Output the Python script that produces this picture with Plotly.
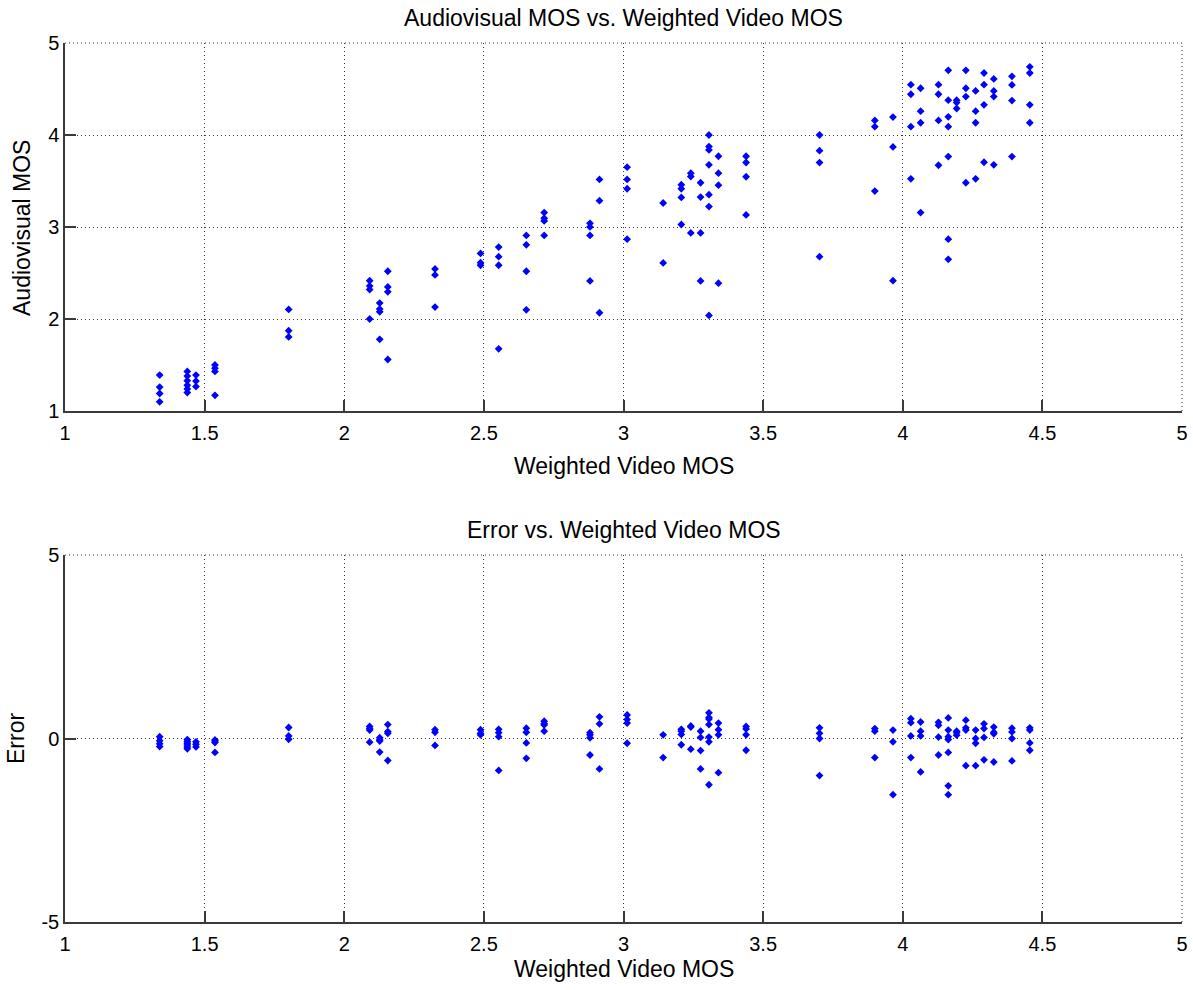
import plotly.graph_objects as go

# ---- data ----
# weighted video MOS (x) for each stimulus
video_mos = (
    [1.339] * 4 + [1.438] * 6 + [1.469] * 3 + [1.537] * 4 + [1.801] * 3 +
    [2.091] * 4 + [2.127] * 4 + [2.156] * 4 + [2.325] * 3 + [2.488] * 3 +
    [2.553] * 4 + [2.652] * 4 + [2.716] * 4 + [2.880] * 4 + [2.914] * 3 +
    [3.013] * 4 + [3.142] * 2 + [3.207] * 4 + [3.241] * 3 + [3.276] * 4 +
    [3.306] * 7 + [3.340] * 4 + [3.439] * 4 + [3.702] * 4 + [3.900] * 3 +
    [3.965] * 3 + [4.029] * 4 + [4.064] * 4 + [4.128] * 4 + [4.163] * 7 +
    [4.193] * 3 + [4.226] * 4 + [4.261] * 4 + [4.291] * 4 + [4.326] * 4 +
    [4.391] * 4 + [4.455] * 4
)

# audiovisual MOS (top panel)
av_mos = [
    1.39, 1.26, 1.19, 1.10,
    1.43, 1.38, 1.33, 1.28, 1.24, 1.20,
    1.39, 1.325, 1.265,
    1.50, 1.466, 1.43, 1.17,
    2.104, 1.873, 1.805,
    2.417, 2.36, 2.32, 2.00,
    2.173, 2.108, 2.079, 1.779,
    2.519, 2.349, 2.295, 1.56,
    2.544, 2.479, 2.130,
    2.713, 2.612, 2.584,
    2.782, 2.677, 2.584, 1.676,
    2.908, 2.806, 2.519, 2.100,
    3.157, 3.095, 3.066, 2.908,
    3.04, 3.001, 2.908, 2.414,
    3.517, 3.286, 2.068,
    3.650, 3.517, 3.416, 2.868,
    3.261, 2.609,
    3.459, 3.416, 3.322, 3.027,
    3.585, 3.549, 2.936,
    3.481, 3.325, 2.936, 2.414,
    4.000, 3.874, 3.838, 3.676, 3.351, 3.222, 2.039,
    3.769, 3.585, 3.455, 2.389,
    3.769, 3.701, 3.546, 3.131,
    4.000, 3.830, 3.700, 2.677,
    4.158, 4.090, 3.390,
    4.195, 3.870, 2.417,
    4.547, 4.443, 4.090, 3.524,
    4.508, 4.259, 4.133, 3.157,
    4.547, 4.443, 4.158, 3.671,
    4.703, 4.378, 4.198, 4.090, 3.765, 2.868, 2.649,
    4.378, 4.352, 4.288,
    4.703, 4.508, 4.418, 3.481,
    4.479, 4.259, 4.133, 3.524,
    4.674, 4.547, 4.328, 3.704,
    4.609, 4.479, 4.418, 3.676,
    4.638, 4.544, 4.374, 3.765,
    4.741, 4.674, 4.328, 4.133,
]

# prediction error (bottom panel)
error = [
    0.05, -0.06, -0.14, -0.22,
    -0.03, -0.08, -0.13, -0.18, -0.23, -0.28,
    -0.09, -0.16, -0.23,
    -0.04, -0.07, -0.11, -0.38,
    0.30, 0.07, -0.02,
    0.33, 0.27, 0.23, -0.10,
    0.02, -0.04, -0.07, -0.37,
    0.38, 0.19, 0.14, -0.60,
    0.24, 0.17, -0.19,
    0.24, 0.14, 0.10,
    0.25, 0.16, 0.05, -0.87,
    0.28, 0.17, -0.12, -0.54,
    0.47, 0.40, 0.37, 0.20,
    0.16, 0.10, 0.02, -0.45,
    0.59, 0.40, -0.83,
    0.64, 0.52, 0.42, -0.13,
    0.10, -0.52,
    0.25, 0.20, 0.11, -0.17,
    0.34, 0.31, -0.29,
    0.20, 0.03, -0.33, -0.83,
    0.70, 0.57, 0.53, 0.38, 0.04, -0.09, -1.26,
    0.42, 0.24, 0.10, -0.93,
    0.33, 0.26, 0.10, -0.32,
    0.29, 0.14, 0.00, -1.01,
    0.27, 0.20, -0.52,
    0.23, -0.09, -1.53,
    0.54, 0.43, 0.07, -0.52,
    0.45, 0.20, 0.07, -0.91,
    0.44, 0.36, 0.04, -0.45,
    0.56, 0.23, 0.05, -0.03, -0.38, -1.29, -1.53,
    0.20, 0.16, 0.09,
    0.50, 0.29, 0.23, -0.74,
    0.23, 0.00, -0.13, -0.74,
    0.40, 0.27, 0.03, -0.58,
    0.31, 0.17, 0.13, -0.64,
    0.28, 0.18, 0.00, -0.61,
    0.29, 0.23, -0.12, -0.32,
]

x_ticks = [1, 1.5, 2, 2.5, 3, 3.5, 4, 4.5, 5]
x_tick_labels = ["1", "1.5", "2", "2.5", "3", "3.5", "4", "4.5", "5"]
top_y_ticks = [1, 2, 3, 4, 5]
top_y_labels = ["1", "2", "3", "4", "5"]
bottom_y_ticks = [-5, 0, 5]
bottom_y_labels = ["-5", "0", "5"]

title_top = "Audiovisual MOS vs. Weighted Video MOS"
title_bottom = "Error vs. Weighted Video MOS"
x_label = "Weighted Video MOS"
y_label_top = "Audiovisual MOS"
y_label_bottom = "Error"

# ---- figure ----
FONT = "Liberation Sans, Arial, Helvetica, sans-serif"
BLUE = "rgb(0,0,255)"
GRID = "#333333"
DOT = "1px,3px"
marker = dict(symbol="diamond", size=6, color=BLUE, line=dict(width=0))

W, H = 1193, 990
ML, MR, MT, MB = 65, 11, 43, 68
PW, PH = W - ML - MR, H - MT - MB


def py(pix):  # pixel row -> paper y
    return (H - MB - pix) / PH


def px(pix):  # pixel column -> paper x
    return (pix - ML) / PW


fig = go.Figure()
fig.add_trace(go.Scatter(x=video_mos, y=av_mos, mode="markers", marker=marker,
                         xaxis="x", yaxis="y", showlegend=False))
fig.add_trace(go.Scatter(x=video_mos, y=error, mode="markers", marker=marker,
                         xaxis="x2", yaxis="y2", showlegend=False))

axis_common = dict(
    showline=True, linecolor="#3a3a3a", linewidth=1.5,
    ticks="inside", ticklen=11, tickwidth=1.5, tickcolor="#3a3a3a",
    showgrid=True, gridcolor=GRID, gridwidth=1, griddash=DOT,
    zeroline=False, mirror=False, automargin=False,
    ticklabeloverflow="allow",
    tickfont=dict(family=FONT, size=20, color="black"),
)

# dotted frame lines on the top and right edges (grid lines at the range ends)
edge_shapes = []
for xr, yr in (("x domain", "y domain"), ("x2 domain", "y2 domain")):
    edge_shapes.append(dict(type="line", xref=xr, yref=yr, x0=0, x1=1, y0=1, y1=1,
                            line=dict(color=GRID, width=1, dash=DOT)))
    edge_shapes.append(dict(type="line", xref=xr, yref=yr, x0=1, x1=1, y0=0, y1=1,
                            line=dict(color=GRID, width=1, dash=DOT)))

LABEL = dict(family=FONT, size=23, color="black")

fig.update_layout(
    width=W, height=H,
    paper_bgcolor="white", plot_bgcolor="white",
    margin=dict(l=ML, r=MR, t=MT, b=MB),
    font=dict(family=FONT, size=20, color="black"),
    xaxis=dict(axis_common, domain=[0, 1], range=[1, 5], tickvals=x_ticks,
               ticktext=x_tick_labels, anchor="y", ticklabelstandoff=3),
    yaxis=dict(axis_common, domain=[py(411), 1], range=[1, 5],
               tickvals=top_y_ticks, ticktext=top_y_labels, anchor="x"),
    xaxis2=dict(axis_common, domain=[0, 1], range=[1, 5], tickvals=x_ticks,
                ticktext=x_tick_labels, anchor="y2", ticklabelstandoff=3),
    yaxis2=dict(axis_common, domain=[0, py(555)], range=[-5, 5],
                tickvals=bottom_y_ticks, ticktext=bottom_y_labels, anchor="x2"),
    shapes=edge_shapes,
    annotations=[
        dict(text=title_top, xref="paper", yref="paper", x=0.5, y=py(18),
             showarrow=False, yanchor="middle", font=LABEL),
        dict(text=x_label, xref="paper", yref="paper", x=0.5, y=py(466),
             showarrow=False, yanchor="middle", font=LABEL),
        dict(text=y_label_top, xref="paper", yref="paper", x=px(22), y=py(228),
             showarrow=False, xanchor="center", yanchor="middle",
             textangle=-90, font=LABEL),
        dict(text=title_bottom, xref="paper", yref="paper", x=0.5, y=py(530),
             showarrow=False, yanchor="middle", font=LABEL),
        dict(text=x_label, xref="paper", yref="paper", x=0.5, y=py(969),
             showarrow=False, yanchor="middle", font=LABEL),
        dict(text=y_label_bottom, xref="paper", yref="paper", x=px(16), y=py(739),
             showarrow=False, xanchor="center", yanchor="middle",
             textangle=-90, font=LABEL),
    ],
)

fig.write_html("out.html", config={"displayModeBar": False},
               post_script="document.body.style.margin='0';")
